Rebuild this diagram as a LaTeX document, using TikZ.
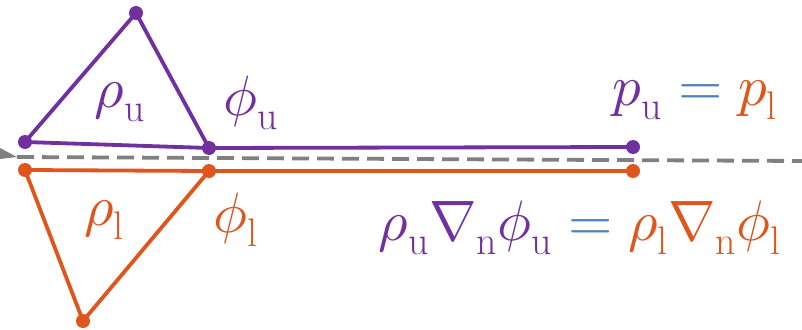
\documentclass[tikz,border=0pt]{standalone}
\usepackage{unicode-math}
\setmathfont{Latin Modern Math}
\definecolor{purp}{HTML}{7030A0}
\definecolor{oran}{HTML}{DF561C}
\definecolor{blu}{HTML}{4F81BD}
\definecolor{gry}{HTML}{808080}
\begin{document}
\begin{tikzpicture}[x=1pt,y=-1pt,
  pdot/.style={circle,fill=purp,inner sep=0pt,minimum size=14pt},
  odot/.style={circle,fill=oran,inner sep=0pt,minimum size=14pt},
  pline/.style={draw=purp,line width=3.8pt},
  oline/.style={draw=oran,line width=3.8pt},
  lab/.style={inner sep=0pt,font=\fontsize{57}{64}\selectfont}]
\useasboundingbox (0,0) rectangle (802,329);
% grey reference line
\coordinate (g0) at (17,157);
\coordinate (g1) at (802,161);
\draw[gry,line width=3.8pt,dash pattern=on 17pt off 8pt] (g0) -- (g1);
\fill[gry] (0,148) -- (g0) -- (0,159) -- cycle;
% purple
\node[pdot] (pt) at (136,13) {};
\node[pdot] (pl) at (25,142) {};
\node[pdot] (pr) at (209,148) {};
\node[pdot] (pe) at (633,147) {};
\draw[pline,line join=round] (pt.center) -- (pl.center) -- (pr.center) -- cycle;
\draw[pline] (pr.center) -- (pe.center);
% orange
\node[odot] (ol) at (25,170) {};
\node[odot] (or) at (209,171) {};
\node[odot] (oe) at (633,171) {};
\node[odot] (ob) at (83,321) {};
\draw[oline,line join=round] (ol.center) -- (or.center) -- (ob.center) -- cycle;
\draw[oline] (or.center) -- (oe.center);
% labels
\node[lab,text=purp] (rhou) at (120,102) {$\rho_{\mathrm{u}}$};
\node[lab,text=purp] (phiu) at (251,103) {$\phi_{\mathrm{u}}$};
\node[lab,text=oran] (rhol) at (104,220) {$\rho_{\mathrm{l}}$};
\node[lab,text=oran] (phil) at (236,220) {$\phi_{\mathrm{l}}$};
\node[lab] (peq) at (695,100) {$\textcolor{purp}{p_{\mathrm{u}}}\textcolor{blu}{{}={}}\textcolor{oran}{p_{\mathrm{l}}}$};
\node[lab] (feq) at (580,228) {$\textcolor{purp}{\rho_{\mathrm{u}}\mitnabla_{\mathrm{n}}\phi_{\mathrm{u}}}\textcolor{blu}{{}={}}\textcolor{oran}{\rho_{\mathrm{l}}\mitnabla_{\mathrm{n}}\phi_{\mathrm{l}}}$};
\end{tikzpicture}
\end{document}
